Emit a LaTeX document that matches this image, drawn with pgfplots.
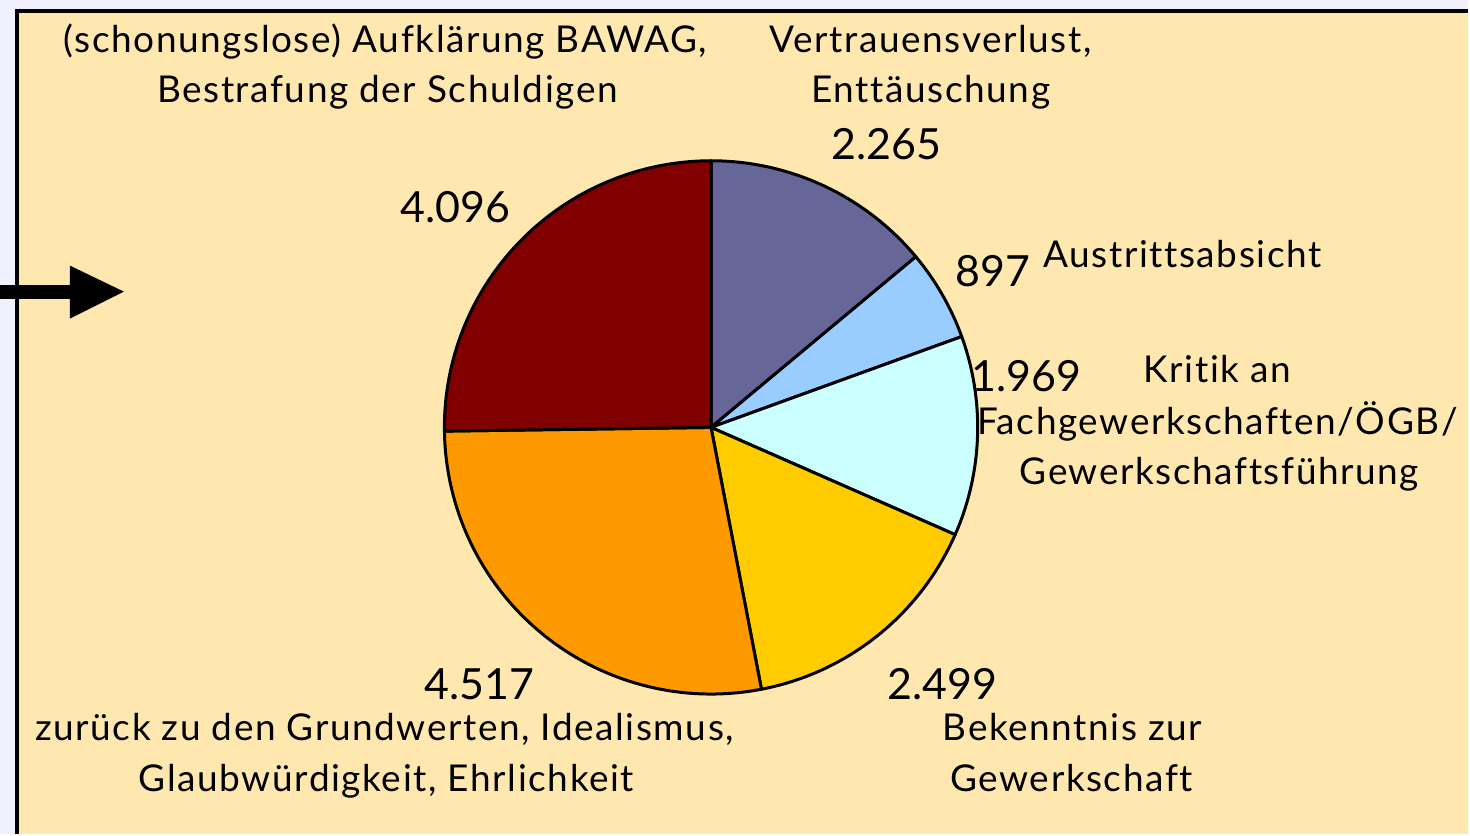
\documentclass[border=0pt]{standalone}
\usepackage{pgfplots}
\pgfplotsset{compat=1.18}
\usepackage{fontspec}
\setmainfont{Lato}[Ligatures=NoCommon]
\definecolor{lav}{RGB}{240,240,255}
\definecolor{bgy}{RGB}{255,232,176}
\definecolor{cV}{HTML}{666699}
\definecolor{cA}{HTML}{99CCFF}
\definecolor{cK}{HTML}{CCFFFF}
\definecolor{cB}{HTML}{FFCC00}
\definecolor{cZ}{HTML}{FF9900}
\definecolor{cF}{HTML}{800000}
% values
\def\vV{2265}\def\vA{897}\def\vK{1969}\def\vB{2499}\def\vZ{4517}\def\vF{4096}
\pgfmathsetmacro\tot{\vV+\vA+\vK+\vB+\vZ+\vF}
\pgfmathsetmacro\eV{90-\vV/\tot*360}
\pgfmathsetmacro\eA{\eV-\vA/\tot*360}
\pgfmathsetmacro\eK{\eA-\vK/\tot*360}
\pgfmathsetmacro\eB{\eK-\vB/\tot*360}
\pgfmathsetmacro\eZ{\eB-\vZ/\tot*360}
\def\eF{-270}
\newcommand\lab{\fontsize{37}{44}\selectfont\addfontfeatures{LetterSpace=4.3}}
\newcommand\num{\fontsize{43}{48}\selectfont}
\begin{document}
\begin{tikzpicture}
\begin{axis}[hide axis, x=1pt, y=1pt, xmin=0, xmax=1470, ymin=0, ymax=835,
  scale only axis, clip=false, enlargelimits=false]
\fill[lav] (axis cs:0,0) rectangle (axis cs:1470,835);
\fill[bgy] (axis cs:17,0) rectangle (axis cs:1470,824);
\draw[line width=4pt] (axis cs:17,0) -- (axis cs:17,824) -- (axis cs:1470,824);
% arrow
\fill[black] (axis cs:0,550) rectangle (axis cs:72,536);
\fill[black] (axis cs:70,569) -- (axis cs:124,543) -- (axis cs:70,516) -- cycle;
% pie
\filldraw[fill=cV, draw=black, line width=3pt, line join=round] (axis cs:712,407) -- ++(90:267pt) arc[start angle=90, end angle=\eV, radius=267pt] -- cycle;
\filldraw[fill=cA, draw=black, line width=3pt, line join=round] (axis cs:712,407) -- ++(\eV:267pt) arc[start angle=\eV, end angle=\eA, radius=267pt] -- cycle;
\filldraw[fill=cK, draw=black, line width=3pt, line join=round] (axis cs:712,407) -- ++(\eA:267pt) arc[start angle=\eA, end angle=\eK, radius=267pt] -- cycle;
\filldraw[fill=cB, draw=black, line width=3pt, line join=round] (axis cs:712,407) -- ++(\eK:267pt) arc[start angle=\eK, end angle=\eB, radius=267pt] -- cycle;
\filldraw[fill=cZ, draw=black, line width=3pt, line join=round] (axis cs:712,407) -- ++(\eB:267pt) arc[start angle=\eB, end angle=\eZ, radius=267pt] -- cycle;
\filldraw[fill=cF, draw=black, line width=3pt, line join=round] (axis cs:712,407) -- ++(\eZ:267pt) arc[start angle=\eZ, end angle=\eF, radius=267pt] -- cycle;
% labels
\node[anchor=base, inner sep=0pt] at (axis cs:386,782) {\lab (schonungslose) Aufklärung BAWAG,};
\node[anchor=base, inner sep=0pt] at (axis cs:388,732) {\lab Bestrafung der Schuldigen};
\node[anchor=base, inner sep=0pt] at (axis cs:932,782) {\lab Vertrauensverlust,};
\node[anchor=base, inner sep=0pt] at (axis cs:932,732) {\lab Enttäuschung};
\node[anchor=base, inner sep=0pt] at (axis cs:888,675) {\num 2.265};
\node[anchor=base, inner sep=0pt] at (axis cs:456,612) {\num 4.096};
\node[anchor=base, inner sep=0pt] at (axis cs:994,548) {\num 897};
\node[anchor=base, inner sep=0pt] at (axis cs:1184,567) {\lab Austrittsabsicht};
\node[anchor=base, inner sep=0pt] at (axis cs:1028,443) {\num 1.969};
\node[anchor=base, inner sep=0pt] at (axis cs:1219,452) {\lab Kritik an};
\node[anchor=base, inner sep=0pt] at (axis cs:1219,400) {\lab Fachgewerkschaften/ÖGB/};
\node[anchor=base, inner sep=0pt] at (axis cs:1221,350) {\lab Gewerkschaftsführung};
\node[anchor=base, inner sep=0pt] at (axis cs:944,135) {\num 2.499};
\node[anchor=base, inner sep=0pt] at (axis cs:480,135) {\num 4.517};
\node[anchor=base, inner sep=0pt] at (axis cs:385,93) {\lab zurück zu den Grundwerten, Idealismus,};
\node[anchor=base, inner sep=0pt] at (axis cs:387,42) {\lab Glaubwürdigkeit, Ehrlichkeit};
\node[anchor=base, inner sep=0pt] at (axis cs:1074,93) {\lab Bekenntnis zur};
\node[anchor=base, inner sep=0pt] at (axis cs:1073,42) {\lab Gewerkschaft};
\end{axis}
\end{tikzpicture}
\end{document}
